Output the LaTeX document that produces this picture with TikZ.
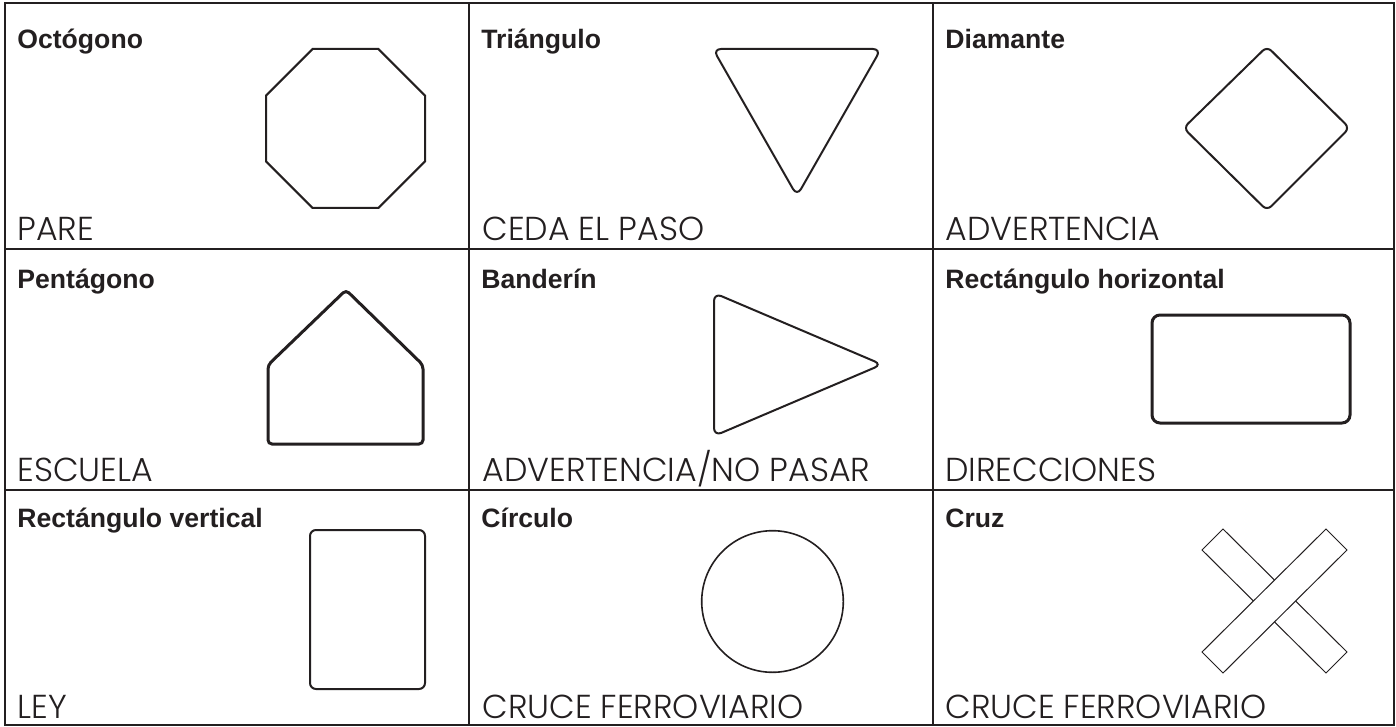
\documentclass[tikz,border=0pt]{standalone}
\usepackage{fontspec}
\setmainfont{Liberation Sans}
\newfontfamily\titlefont{Liberation Sans}[UprightFont=* Bold]
\newfontfamily\labelfont{Poppins Light}
\definecolor{ink}{HTML}{231F20}
\tikzset{
  grid/.style={draw=ink, line width=1pt},
  title/.style={anchor=base west, inner sep=0pt, text=ink, font=\titlefont\fontsize{13.3pt}{15pt}\selectfont},
  meaning/.style={anchor=base west, inner sep=0pt, text=ink, font=\labelfont\fontsize{16.6pt}{18pt}\selectfont},
  shp/.style={draw=ink, line width=1pt, line join=miter},
}
\begin{document}
\begin{tikzpicture}[x=0.5pt,y=-0.5pt]
\useasboundingbox (0,0) rectangle (1396,727);
% grid
\draw[grid] (4.5,3.5) rectangle (1394,725);
\draw[grid] (469,3.5) -- (469,725);
\draw[grid] (933,3.5) -- (933,725);
\draw[grid] (4.5,249) -- (1394,249);
\draw[grid] (4.5,489.5) -- (1394,489.5);
% titles
\node[title] (t1) at (17,49) {Octógono};
\node[title] (t2) at (481,49) {Triángulo};
\node[title] (t3) at (945,49) {Diamante};
\node[title] (t4) at (17,288) {Pentágono};
\node[title] (t5) at (481,288) {Banderín};
\node[title] (t6) at (945,288) {Rectángulo horizontal};
\node[title] (t7) at (17,527) {Rectángulo vertical};
\node[title] (t8) at (481,527) {Círculo};
\node[title] (t9) at (945,527) {Cruz};
% meanings
\node[meaning] (m1) at (17,241) {PARE};
\node[meaning] (m2) at (482,241) {CEDA EL PASO};
\node[meaning] (m3) at (945,241) {ADVERTENCIA};
\node[meaning] (m4) at (17,481) {ESCUELA};
\node[meaning] (m5) at (482,481) {ADVERTENCIA/NO PASAR};
\node[meaning] (m6) at (945,481) {DIRECCIONES};
\node[meaning] (m7) at (17,718) {LEY};
\node[meaning] (m8) at (482,718) {CRUCE FERROVIARIO};
\node[meaning] (m9) at (945,718) {CRUCE FERROVIARIO};
% octagon
\draw[shp] (312.6,49) -- (378.4,49) -- (425,95.6) -- (425,161.4) -- (378.4,208) -- (312.6,208) -- (266,161.4) -- (266,95.6) -- cycle;
% triangle
\draw[shp, rounded corners=4pt] (797,49) -- (881,49) -- (797,196) -- (713,49) -- cycle;
% diamond
\draw[shp, rounded corners=3pt] (1225.25,87.25) -- (1267,46.5) -- (1349.5,128) -- (1267,210.5) -- (1183.5,128) -- cycle;
% pentagon
\draw[shp, line width=1.5pt, rounded corners=2pt] (346,444) -- (268,444) -- (268,365) -- (346,290) -- (423,365) -- (423,444) -- cycle;
% pennant
\draw[shp, rounded corners=4pt] (714,364) -- (714,293) -- (882,364.5) -- (714,436) -- cycle;
% horizontal rectangle
\draw[shp, line width=1.5pt, rounded corners=4pt] (1152,315) rectangle (1350,423);
% vertical rectangle
\draw[shp, rounded corners=3pt] (310,530) rectangle (425,689);
% circle
\draw[shp, line width=0.8pt] (772.5,601.5) circle [radius=35.4pt];
% cross
\draw[shp, line width=0.5pt, fill=white] (1223,529) -- (1347,652) -- (1326,673) -- (1202,550) -- cycle;
\draw[shp, line width=0.5pt, fill=white] (1326,529) -- (1347,550) -- (1223,673) -- (1202,652) -- cycle;
\end{tikzpicture}
\end{document}
